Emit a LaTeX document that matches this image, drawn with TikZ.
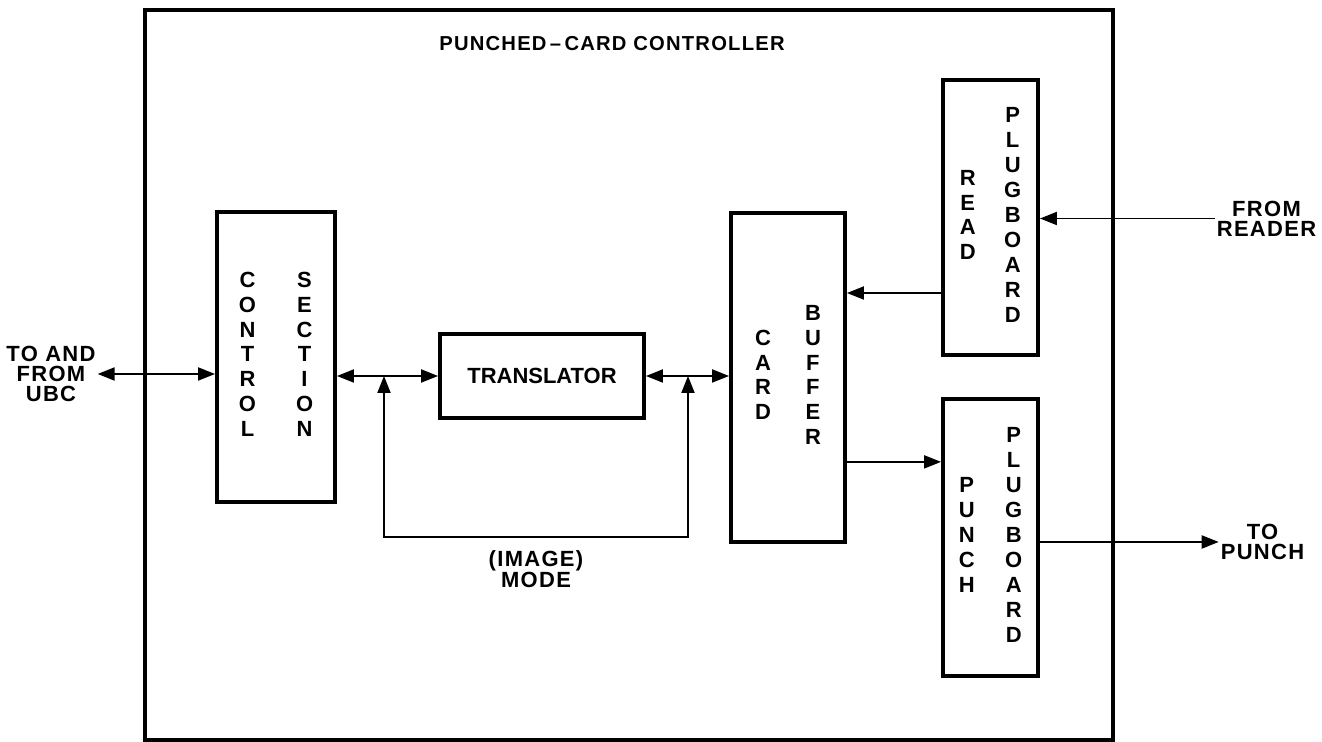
\documentclass[tikz,border=0pt]{standalone}
\usepackage{fontspec}
\setmainfont{Liberation Sans}
\newfontfamily\spacedfont{Liberation Sans}[LetterSpace=6]
\usetikzlibrary{arrows.meta,positioning}

\newcommand{\twostack}[3]{%
  \begin{tabular}[c]{@{}c@{}}#2\end{tabular}%
  \hspace{#1}%
  \begin{tabular}[c]{@{}c@{}}#3\end{tabular}}

\begin{document}
\begin{tikzpicture}[
  flow/.style={-{Triangle[length=3.4mm,width=2.6mm]}, line width=1.1pt},
  twoway/.style={{Triangle[length=3.4mm,width=2.6mm]}-{Triangle[length=3.4mm,width=2.6mm]}, line width=1.1pt},
  unit/.style={
    draw,
    line width=2.2pt,
    inner sep=0pt,
    align=center,
    font=\fontsize{12.5}{14.2}\selectfont\bfseries
  },
  tag/.style={align=center, inner sep=1pt, font=\spacedfont\fontsize{12.5}{11.3}\selectfont\bfseries}
]
\useasboundingbox (0,0) rectangle (26.44,14.84);

\node[draw, line width=2pt, minimum width=19.36cm, minimum height=14.6cm] (ctrlr) at (12.58,7.34) {};
\node[font=\spacedfont\fontsize{11.5}{15}\selectfont\bfseries] (ttl) at (12.24,13.96) {PUNCHED\,\textendash\,CARD CONTROLLER};

\node[unit, minimum width=2.36cm, minimum height=5.8cm] (ctrl) at (5.52,7.70)
  {\twostack{0.8cm}{C\\O\\N\\T\\R\\O\\L}{S\\E\\C\\T\\I\\O\\N}};
\node[unit, minimum width=4.08cm, minimum height=1.68cm, font=\fontsize{12.5}{15}\selectfont\bfseries] (xlat) at (10.84,7.32) {TRANSLATOR};
\node[unit, minimum width=2.28cm, minimum height=6.58cm] (buf) at (15.76,7.29)
  {\twostack{0.68cm}{\renewcommand{\arraystretch}{0.83}C\\A\\R\\D}{B\\U\\F\\F\\E\\R}};
\node[unit, minimum width=1.9cm, minimum height=5.5cm] (rdpb) at (19.81,10.49)
  {\twostack{0.57cm}{R\\E\\A\\D}{P\\L\\U\\G\\B\\O\\A\\R\\D}};
\node[unit, minimum width=1.9cm, minimum height=5.54cm, below=8mm of rdpb] (pnpb)
  {\twostack{0.61cm}{P\\U\\N\\C\\H}{P\\L\\U\\G\\B\\O\\A\\R\\D}};

\node[tag] (ubc) at (1.02,7.36) {TO AND\\FROM\\UBC};
\node[tag] (reader) at (25.33,10.47) {FROM\\READER};
\node[tag] (punch) at (25.25,4.0) {TO\\PUNCH};
\node[tag] (mode) at (10.72,3.46) {(IMAGE)\\MODE};

\coordinate (tapL) at (7.68,7.32);
\coordinate (tapR) at (13.76,7.32);
\coordinate (loopB) at (10.72,4.1);

\draw[twoway] (ubc.east) -- (ubc.east -| ctrl.west);
\draw[twoway] (xlat.west -| ctrl.east) -- (xlat.west);
\draw[twoway] (xlat.east) -- (xlat.east -| buf.west);
\draw[twoway] (tapR) -- (tapR |- loopB) -- (tapL |- loopB) -- (tapL);
\draw[flow] (reader.west) -- (reader.west -| rdpb.east);
\draw[flow] ([yshift=-15.1mm]rdpb.west) -- ([yshift=-15.1mm]rdpb.west -| buf.east);
\draw[flow] ([yshift=15.1mm]pnpb.west -| buf.east) -- ([yshift=15.1mm]pnpb.west);
\draw[flow] (pnpb.east |- punch.west) -- (punch.west);

\end{tikzpicture}
\end{document}
